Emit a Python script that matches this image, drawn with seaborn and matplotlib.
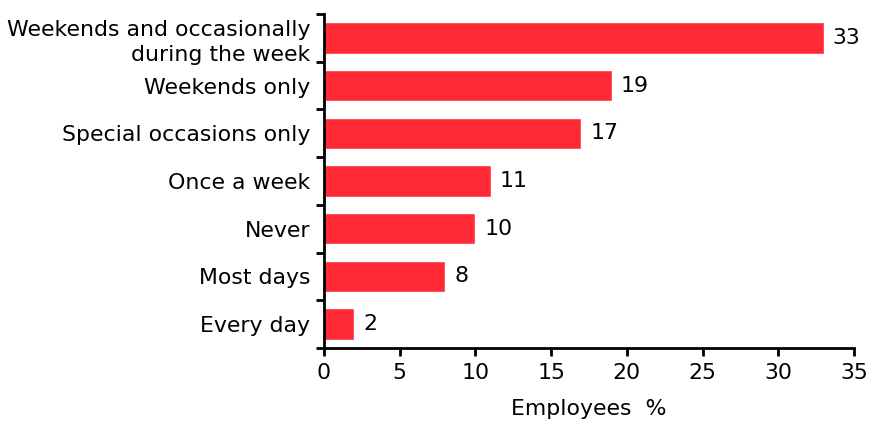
import matplotlib
matplotlib.use("Agg")
import matplotlib.pyplot as plt
import seaborn as sns
import pandas as pd
import numpy as np

categories = ["Weekends and occasionally\nduring the week", "Weekends only",
              "Special occasions only", "Once a week", "Never", "Most days", "Every day"]
values = [33, 19, 17, 11, 10, 8, 2]
x_ticks = [0, 5, 10, 15, 20, 25, 30, 35]

sns.set_theme(style="ticks")
plt.rcParams['font.family'] = ['DejaVu Sans']

df = pd.DataFrame({"category": categories, "value": values})

fig = plt.figure(figsize=(8.7, 4.21), dpi=100)
ax = fig.add_axes([0.3724, 0.1734, 0.6092, 0.7933])

sns.barplot(data=df, x="value", y="category", orient="h", color="#FF2A36",
            saturation=1, width=0.66, ax=ax)

FS = 15.8
for i, v in enumerate(values):
    ax.text(v + 0.6, i, str(v), va="center", ha="left", fontsize=FS, color="black")

ax.set_xlim(0, 35)
ax.set_ylim(len(categories) - 0.5, -0.5)
ax.set_xticks(x_ticks)
ax.set_xticklabels([str(t) for t in x_ticks], fontsize=FS)
ax.set_yticks(range(len(categories)))
ax.set_yticklabels(categories, fontsize=FS, linespacing=1.3)
ax.tick_params(axis="y", which="major", length=0, pad=10)
ax.set_yticks(np.arange(-0.5, len(categories)), minor=True)
ax.tick_params(axis="y", which="minor", length=6, width=2, color="black")
ax.tick_params(axis="x", length=6, width=2, color="black", pad=5)
ax.set_xlabel("Employees  %", fontsize=FS, labelpad=11, color="black")
ax.set_ylabel("")
for s in ["top", "right"]:
    ax.spines[s].set_visible(False)
for s in ["left", "bottom"]:
    ax.spines[s].set_linewidth(2)
    ax.spines[s].set_color("black")
for lbl in ax.get_xticklabels() + ax.get_yticklabels():
    lbl.set_color("black")

fig.savefig("out.png", dpi=100)
